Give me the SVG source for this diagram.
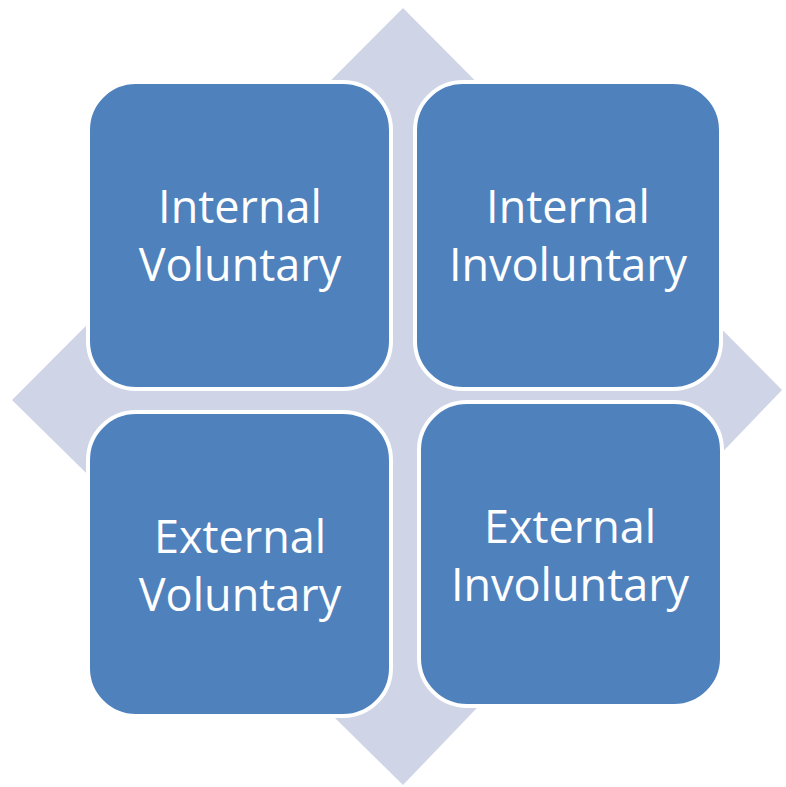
<svg xmlns="http://www.w3.org/2000/svg" width="786" height="787" viewBox="0 0 786 787">
<style>
.box{fill:#4f81bd;stroke:#ffffff;stroke-width:4}
.lbl{fill:#ffffff;font-family:"Open Sans","Noto Sans",sans-serif;font-size:45px;text-anchor:middle}
</style>
<rect width="786" height="787" fill="#ffffff"/>
<polygon id="diamond" points="403,8 782,390 403,785 12,400" fill="#cfd5e6"/>
<g id="internal-voluntary">
<rect class="box" x="88" y="82" width="303" height="307" rx="48"/>
<text class="lbl" x="240" y="223">Internal</text>
<text class="lbl" x="240" y="281">Voluntary</text>
</g>
<g id="internal-involuntary">
<rect class="box" x="415" y="82" width="306" height="307" rx="48"/>
<text class="lbl" x="568" y="223">Internal</text>
<text class="lbl" x="568" y="281">Involuntary</text>
</g>
<g id="external-voluntary">
<rect class="box" x="88" y="412" width="303" height="304" rx="48"/>
<text class="lbl" x="240" y="553">External</text>
<text class="lbl" x="240" y="611">Voluntary</text>
</g>
<g id="external-involuntary">
<rect class="box" x="419" y="402" width="303" height="304" rx="48"/>
<text class="lbl" x="570" y="543">External</text>
<text class="lbl" x="570" y="601">Involuntary</text>
</g>
<g id="connectors"/>
</svg>
